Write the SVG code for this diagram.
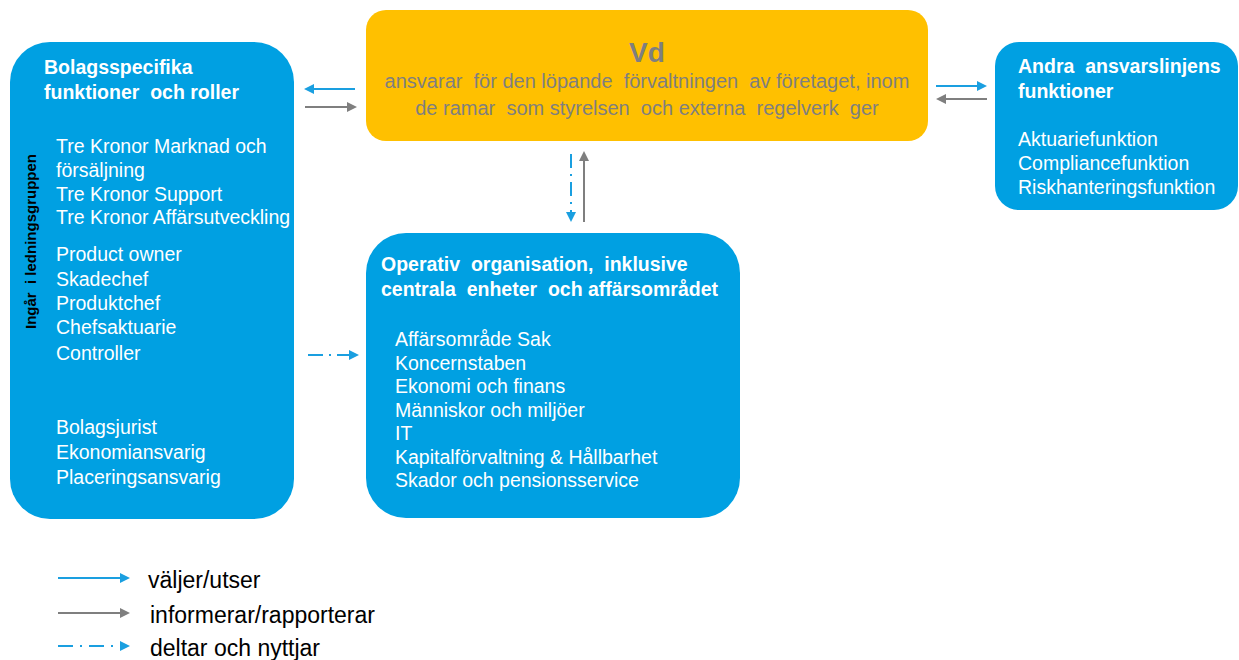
<svg xmlns="http://www.w3.org/2000/svg" width="1239" height="660" viewBox="0 0 1239 660" xml:space="preserve">
<style>
text { font-family: "Liberation Sans", Arial, sans-serif; white-space: pre; }
.box { fill: #00A0E2; }
.vd { fill: #FFC000; }
.t { fill: #FFFFFF; font-size: 19.5px; }
.tb { fill: #FFFFFF; font-size: 19.5px; font-weight: bold; }
.g { fill: #7F7F7F; font-size: 20px; }
.leg { fill: #000000; font-size: 23px; }
.blue { stroke: #1A9FE0; stroke-width: 2; fill: none; }
.gray { stroke: #7F7F7F; stroke-width: 2; fill: none; }
.dd { stroke: #1A9FE0; stroke-width: 2; fill: none; stroke-dasharray: 14 6 2 6; }
</style>
<defs>
<marker id="hb" viewBox="0 0 10 10" markerWidth="10" markerHeight="10" markerUnits="userSpaceOnUse" refX="2" refY="5" orient="auto"><path d="M0,0 L10,5 L0,10 z" fill="#1A9FE0"/></marker>
<marker id="hg" viewBox="0 0 10 10" markerWidth="10" markerHeight="10" markerUnits="userSpaceOnUse" refX="2" refY="5" orient="auto"><path d="M0,0 L10,5 L0,10 z" fill="#7F7F7F"/></marker>
</defs>
<rect width="1239" height="660" fill="#FFFFFF"/>

<g id="bolag">
<rect class="box" x="10" y="42" width="284" height="477" rx="40" ry="40"/>
<text class="tb" x="44" y="74">Bolagsspecifika</text>
<text class="tb" x="44" y="99">funktioner  och roller</text>
<text class="t" x="56" y="153">Tre Kronor Marknad och</text>
<text class="t" x="56" y="177">försäljning</text>
<text class="t" x="56" y="200.5">Tre Kronor Support</text>
<text class="t" x="56" y="223.5">Tre Kronor Affärsutveckling</text>
<text class="t" x="56" y="261">Product owner</text>
<text class="t" x="56" y="285.5">Skadechef</text>
<text class="t" x="56" y="310">Produktchef</text>
<text class="t" x="56" y="334">Chefsaktuarie</text>
<text class="t" x="56" y="359.5">Controller</text>
<text class="t" x="56" y="434">Bolagsjurist</text>
<text class="t" x="56" y="459">Ekonomiansvarig</text>
<text class="t" x="56" y="484">Placeringsansvarig</text>
<text transform="translate(36,241.5) rotate(-90)" text-anchor="middle" font-size="15" font-weight="bold" fill="#000000">Ingår  i ledningsgruppen</text>
</g>

<g id="vd">
<rect class="vd" x="366" y="10" width="562" height="131" rx="20" ry="20"/>
<text x="647" y="62" text-anchor="middle" font-size="28" font-weight="bold" fill="#7F7F7F">Vd</text>
<text class="g" x="647" y="88" text-anchor="middle">ansvarar  för den löpande  förvaltningen  av företaget, inom</text>
<text class="g" x="647" y="114.5" text-anchor="middle">de ramar  som styrelsen  och externa  regelverk  ger</text>
</g>

<g id="andra">
<rect class="box" x="995" y="42" width="243" height="168" rx="24" ry="24"/>
<text class="tb" x="1018" y="73">Andra  ansvarslinjens</text>
<text class="tb" x="1018" y="98">funktioner</text>
<text class="t" x="1018" y="146">Aktuariefunktion</text>
<text class="t" x="1018" y="170">Compliancefunktion</text>
<text class="t" x="1018" y="193.5">Riskhanteringsfunktion</text>
</g>

<g id="operativ">
<rect class="box" x="366" y="233" width="374" height="285" rx="40" ry="40"/>
<text class="tb" x="381" y="271">Operativ  organisation,  inklusive</text>
<text class="tb" x="381" y="296">centrala  enheter  och affärsområdet</text>
<text class="t" x="395" y="346">Affärsområde Sak</text>
<text class="t" x="395" y="369.5">Koncernstaben</text>
<text class="t" x="395" y="393">Ekonomi och finans</text>
<text class="t" x="395" y="416.5">Människor och miljöer</text>
<text class="t" x="395" y="440">IT</text>
<text class="t" x="395" y="463.5">Kapitalförvaltning &amp; Hållbarhet</text>
<text class="t" x="395" y="487">Skador och pensionsservice</text>
</g>

<g id="connectors">
<line class="blue" x1="355" y1="89" x2="312" y2="89" marker-end="url(#hb)"/>
<line class="gray" x1="305" y1="107" x2="349" y2="107" marker-end="url(#hg)"/>
<line class="blue" x1="936" y1="86" x2="979" y2="86" marker-end="url(#hb)"/>
<line class="gray" x1="987" y1="99" x2="944" y2="99" marker-end="url(#hg)"/>
<line class="dd" x1="571" y1="154" x2="571" y2="214" marker-end="url(#hb)"/>
<line class="gray" x1="584" y1="222" x2="584" y2="159" marker-end="url(#hg)"/>
<line class="dd" x1="308" y1="355" x2="351" y2="355" style="stroke-dasharray:15 6 2 6" marker-end="url(#hb)"/>
</g>

<g id="legend">
<line class="blue" x1="58" y1="578" x2="122" y2="578" marker-end="url(#hb)"/>
<text class="leg" x="148" y="588">väljer/utser</text>
<line class="gray" x1="58" y1="613" x2="122" y2="613" marker-end="url(#hg)"/>
<text class="leg" x="150" y="622.5">informerar/rapporterar</text>
<line class="dd" x1="58" y1="646" x2="122" y2="646" style="stroke-dasharray:15 7 2 7" marker-end="url(#hb)"/>
<text class="leg" x="150" y="656">deltar och nyttjar</text>
</g>
</svg>
